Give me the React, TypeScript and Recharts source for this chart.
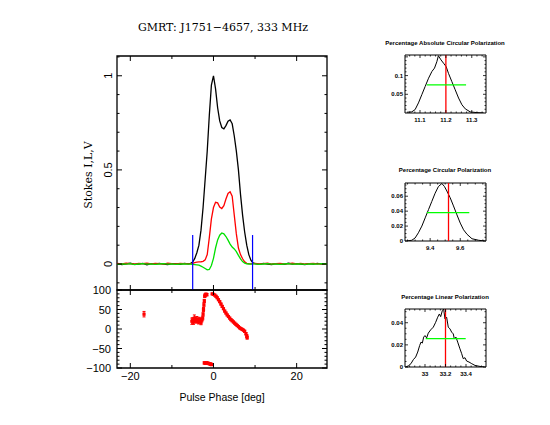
import React from 'react';
import {
  LineChart,
  Line,
  XAxis,
  YAxis,
  ReferenceLine,
  ReferenceArea,
  ScatterChart,
  Scatter,
  ErrorBar,
} from 'recharts';

// ---------------- Data ----------------
// Main profile: pulse phase (deg) and normalised Stokes I, L, V
const phaseDeg = [
  -23.2, -22, -21, -20, -19, -18, -17, -16, -15, -14, -13, -12, -11, -10, -9, -8, -7, -6,
  -5.5, -5, -4.5, -4, -3.5, -3, -2.5, -2, -1.5, -1, -0.5, 0, 0.5, 1, 1.5, 2, 2.5, 3, 3.5, 4,
  4.5, 5, 5.5, 6, 6.5, 7, 7.5, 8, 8.5, 9, 9.5,
  10, 11, 12, 13, 14, 15, 16, 17, 18, 19, 20, 21, 22, 23, 24, 25, 26, 27.3,
];
const stokesI = [
  0.002, -0.003, 0.001, 0.004, -0.002, 0.0, 0.003, -0.004, 0.002, -0.001, 0.003, 0.0, -0.003, 0.002, 0.001, -0.002, 0.003, 0.001,
  0.004, 0.01, 0.03, 0.06, 0.1, 0.18, 0.3, 0.45, 0.6, 0.79, 0.95, 1.0, 0.93, 0.83, 0.76, 0.725, 0.718, 0.735, 0.758, 0.765,
  0.745, 0.68, 0.6, 0.5, 0.37, 0.26, 0.17, 0.1, 0.05, 0.02, 0.006,
  0.002, -0.002, 0.003, 0.0, -0.003, 0.002, 0.001, -0.002, 0.004, -0.001, 0.002, 0.0, -0.003, 0.002, -0.001, 0.003, 0.0, 0.001,
];
const stokesL = [
  0.003, 0.001, 0.004, 0.002, 0.0, 0.003, 0.002, 0.004, 0.001, 0.003, 0.002, 0.0, 0.004, 0.002, 0.001, 0.003, 0.002, 0.001,
  0.002, 0.004, 0.008, 0.01, 0.011, 0.012, 0.014, 0.022, 0.05, 0.14, 0.24, 0.3, 0.328, 0.325, 0.303, 0.295, 0.31, 0.345, 0.375, 0.384,
  0.36, 0.26, 0.16, 0.085, 0.05, 0.028, 0.012, 0.004, 0.002, 0.001, 0.002,
  0.003, 0.001, 0.002, 0.004, 0.0, 0.002, 0.003, 0.001, 0.002, 0.004, 0.001, 0.003, 0.0, 0.002, 0.003, 0.001, 0.002, 0.001,
];
const stokesV = [
  -0.002, 0.001, -0.001, 0.002, -0.003, 0.0, 0.002, -0.001, 0.001, -0.002, 0.0, 0.002, -0.001, 0.001, -0.002, 0.0, 0.001, -0.001,
  0.0, -0.002, -0.003, -0.004, -0.006, -0.011, -0.017, -0.024, -0.031, -0.029, -0.008, 0.03, 0.085, 0.128, 0.153, 0.165, 0.16, 0.146, 0.127, 0.106,
  0.09, 0.08, 0.066, 0.046, 0.027, 0.013, 0.005, 0.001, 0.0, -0.001, 0.001,
  0.001, -0.002, 0.0, 0.002, -0.001, 0.001, -0.002, 0.0, 0.002, -0.001, 0.0, 0.001, -0.002, 0.001, 0.0, -0.001, 0.002, 0.0,
];
const onPulseEdges = [-5.0, 9.4];
const onPulseMarkerTop = 0.154;

// Polarisation position angle (deg) with errors
const paPhase = [
  -16.7,
  -5.2, -5.0, -4.8, -4.6, -4.4, -4.2, -4.0, -3.8, -3.6, -3.4, -3.2, -3.0, -2.8, -2.6, -2.5, -2.4, -2.3, -2.2, -2.1, -2.0, -1.8, -1.6,
  -2.2, -1.9, -1.6, -1.3, -1.0, -0.7, -0.5,
  -0.3, 0.0, 0.3, 0.6, 0.9, 1.2, 1.5, 1.8, 2.1, 2.4, 2.7, 3.0, 3.3, 3.6, 3.9, 4.2, 4.5, 4.8, 5.1, 5.4, 5.7, 6.0, 6.3, 6.6, 6.9, 7.2, 7.5, 7.8, 8.0, 8.1,
];
const paDeg = [
  38,
  20, 22, 18, 28, 24, 20, 26, 22, 18, 25, 21, 16, 23, 28, 38, 50, 62, 72, 84, 87, 89, 88,
  -87, -88, -87, -88, -89, -90, -91,
  90, 89, 87, 84, 80, 75, 70, 64, 58, 52, 46, 41, 36, 32, 28, 24, 21, 18, 15, 12, 9, 6, 3, 1, -1, -3, -6, -12, -18, -22,
];
const paErr = [
  7,
  8, 7, 6, 8, 6, 5, 6, 5, 5, 5, 5, 5, 5, 5, 5, 5, 5, 4, 3, 3, 3, 3,
  3, 3, 3, 3, 3, 3, 3,
  2, 2, 2, 2, 2, 2, 2, 2, 2, 2, 2, 2, 2, 2, 2, 2, 2, 2, 2, 2, 2, 2, 2, 2, 2, 2, 3, 3, 4, 4,
];

// Percentage Absolute Circular Polarization distribution
const absCircX = [11.049, 11.068, 11.081, 11.094, 11.107, 11.12, 11.133, 11.146, 11.156, 11.165, 11.171, 11.181, 11.191, 11.201, 11.21, 11.223, 11.236, 11.249, 11.262, 11.275, 11.294, 11.32, 11.346];
const absCircP = [0.002, 0.003, 0.009, 0.027, 0.049, 0.071, 0.093, 0.111, 0.12, 0.137, 0.153, 0.142, 0.133, 0.124, 0.106, 0.084, 0.062, 0.04, 0.022, 0.011, 0.003, 0.001, 0.0];
const absCircValue = 11.2;
const absCircWidth = [11.126, 11.278];
const absCircHalf = 0.075;

// Percentage Circular Polarization distribution
const circX = [9.245, 9.278, 9.3, 9.322, 9.345, 9.367, 9.389, 9.411, 9.433, 9.455, 9.478, 9.495, 9.511, 9.533, 9.555, 9.578, 9.6, 9.622, 9.645, 9.678, 9.722, 9.762];
const circP = [0.0, 0.001, 0.004, 0.011, 0.02, 0.031, 0.042, 0.053, 0.064, 0.073, 0.077, 0.073, 0.067, 0.058, 0.047, 0.035, 0.024, 0.015, 0.009, 0.003, 0.001, 0.0];
const circValue = 9.522;
const circWidth = [9.378, 9.66];
const circHalf = 0.038;

// Percentage Linear Polarization distribution
const linX = [32.812, 32.837, 32.863, 32.886, 32.909, 32.929, 32.948, 32.961, 32.974, 32.987, 33.0, 33.016, 33.032, 33.055, 33.081, 33.104, 33.124, 33.14, 33.153, 33.169, 33.182, 33.195, 33.211, 33.227, 33.244, 33.26, 33.276, 33.286, 33.302, 33.319, 33.341, 33.358, 33.373, 33.39, 33.406, 33.429, 33.456, 33.488, 33.537, 33.579];
const linP = [0.0, 0.001, 0.003, 0.0066, 0.009, 0.0135, 0.0194, 0.0225, 0.0216, 0.027, 0.0284, 0.0263, 0.0306, 0.0335, 0.036, 0.0404, 0.045, 0.0479, 0.0455, 0.0509, 0.0524, 0.0434, 0.045, 0.036, 0.0344, 0.0315, 0.0299, 0.0254, 0.027, 0.0225, 0.0164, 0.012, 0.0075, 0.0084, 0.0054, 0.0045, 0.003, 0.0014, 0.0005, 0.0];
const linValue = 33.2;
const linWidth = [33.007, 33.397];
const linHalf = 0.0257;

// Tick values
const phaseTicks = [-20, -10, 0, 10, 20];
const phaseLabels = [-20, 0, 20];
const stokesTicks = [-0.1, 0, 0.1, 0.2, 0.3, 0.4, 0.5, 0.6, 0.7, 0.8, 0.9, 1.0, 1.1];
const stokesLabels = [0, 0.5, 1];
const paTicks = [-100, -90, -80, -70, -60, -50, -40, -30, -20, -10, 0, 10, 20, 30, 40, 50, 60, 70, 80, 90, 100];
const paLabels = [-100, -50, 0, 50, 100];

// ---------------- Layout / style ----------------
const W = 550;
const H = 425;
const AX = 20; // space reserved for each axis (width / height)
const SANS = '"Liberation Sans", Arial, Helvetica, sans-serif';
const SERIF = '"DejaVu Serif", "Liberation Serif", serif';
const MAIN = { left: 117, right: 327, top: 56, mid: 290, bottom: 368 };
const SMALL = [
  { left: 405, right: 486, top: 55, bottom: 113, titleY: 43 },
  { left: 405, right: 486, top: 183, bottom: 241, titleY: 170 },
  { left: 405, right: 486, top: 309, bottom: 367, titleY: 297 },
];

const near = (v: number, list: number[]) => list.some((m) => Math.abs(m - v) < 1e-6);
const fmtNum = (v: number) => {
  const s = String(Math.round(v * 10000) / 10000);
  return s.replace('-', '\u2212');
};

type TickOpts = {
  axis: 'x' | 'y';
  nearEdge: number;
  farEdge: number;
  majors: number[];
  labels: number[];
  majorLen: number;
  minorLen: number;
  gap: number;
  fontSize: number;
  fontWeight?: string | number;
  rotate?: boolean;
  sw?: number;
};

function makeTick(o: TickOpts) {
  const sw = o.sw ?? 1;
  return function Tick(props: any) {
    const { x, y, payload } = props;
    const v = payload.value as number;
    const len = near(v, o.majors) ? o.majorLen : o.minorLen;
    const show = near(v, o.labels);
    if (o.axis === 'x') {
      return (
        <g>
          <line x1={x} x2={x} y1={o.nearEdge} y2={o.nearEdge - len} stroke="#000" strokeWidth={sw} />
          <line x1={x} x2={x} y1={o.farEdge} y2={o.farEdge + len} stroke="#000" strokeWidth={sw} />
          {show && (
            <text x={x} y={o.nearEdge + o.gap} textAnchor="middle" dominantBaseline="central"
              fontSize={o.fontSize} fontFamily={SANS} fontWeight={o.fontWeight} fill="#000">
              {fmtNum(v)}
            </text>
          )}
        </g>
      );
    }
    const lx = o.nearEdge - o.gap;
    return (
      <g>
        <line x1={o.nearEdge} x2={o.nearEdge + len} y1={y} y2={y} stroke="#000" strokeWidth={sw} />
        <line x1={o.farEdge} x2={o.farEdge - len} y1={y} y2={y} stroke="#000" strokeWidth={sw} />
        {show && (o.rotate ? (
          <text x={lx} y={y} transform={`rotate(-90 ${lx} ${y})`} textAnchor="middle" dominantBaseline="central"
            fontSize={o.fontSize} fontFamily={SANS} fontWeight={o.fontWeight} fill="#000">
            {fmtNum(v)}
          </text>
        ) : (
          <text x={lx} y={y} textAnchor="end" dominantBaseline="central"
            fontSize={o.fontSize} fontFamily={SANS} fontWeight={o.fontWeight} fill="#000">
            {fmtNum(v)}
          </text>
        ))}
      </g>
    );
  };
}

const layer: React.CSSProperties = { position: 'absolute', left: 0, top: 0 };

const mainData = phaseDeg.map((p, i) => ({ phase: p, I: stokesI[i], L: stokesL[i], V: stokesV[i] }));
const paData = paPhase.map((p, i) => ({ phase: p, pa: paDeg[i], err: [paErr[i], paErr[i]] }));

const phaseDomain: [number, number] = [-23.2, 27.3];
const stokesDomain: [number, number] = [-0.138, 1.105];

const marginFor = (b: { left: number; right: number; top: number; bottom: number }) => ({
  top: b.top,
  left: b.left - AX,
  right: W - b.right,
  bottom: H - b.bottom - AX,
});

function MainProfile() {
  return (
    <div style={layer}>
      <LineChart width={W} height={H} data={mainData}
        margin={marginFor({ left: MAIN.left, right: MAIN.right, top: MAIN.top, bottom: MAIN.mid })}>
        <XAxis dataKey="phase" type="number" domain={phaseDomain} allowDataOverflow ticks={phaseTicks} interval={0}
          height={AX} axisLine={false} tickLine={false}
          tick={makeTick({ axis: 'x', nearEdge: MAIN.mid, farEdge: MAIN.top, majors: phaseLabels, labels: [], majorLen: 5, minorLen: 3, gap: 0, fontSize: 11 })} />
        <YAxis type="number" domain={stokesDomain} allowDataOverflow ticks={stokesTicks} interval={0}
          width={AX} axisLine={false} tickLine={false}
          tick={makeTick({ axis: 'y', nearEdge: MAIN.left, farEdge: MAIN.right, majors: stokesLabels, labels: stokesLabels, majorLen: 5, minorLen: 2.5, gap: 9, fontSize: 11, rotate: true })} />
        <ReferenceArea x1={phaseDomain[0]} x2={phaseDomain[1]} y1={stokesDomain[0]} y2={stokesDomain[1]}
          fill="none" stroke="#000" strokeWidth={1.3} fillOpacity={0} />
        <Line dataKey="I" type="linear" stroke="#000000" strokeWidth={1.3} dot={false} activeDot={false} isAnimationActive={false} />
        <Line dataKey="L" type="linear" stroke="#ff0000" strokeWidth={1.3} dot={false} activeDot={false} isAnimationActive={false} />
        <Line dataKey="V" type="linear" stroke="#00e000" strokeWidth={1.3} dot={false} activeDot={false} isAnimationActive={false} />
        {onPulseEdges.map((e) => (
          <ReferenceLine key={e} segment={[{ x: e, y: onPulseMarkerTop }, { x: e, y: stokesDomain[0] }]}
            stroke="#0000ff" strokeWidth={1.2} />
        ))}
      </LineChart>
    </div>
  );
}

function PADot(props: any) {
  const { cx, cy } = props;
  return <rect x={cx - 1.6} y={cy - 1.6} width={3.2} height={3.2} fill="#ff0000" />;
}

function PAPanel() {
  return (
    <div style={layer}>
      <ScatterChart width={W} height={H}
        margin={marginFor({ left: MAIN.left, right: MAIN.right, top: MAIN.mid, bottom: MAIN.bottom })}>
        <XAxis dataKey="phase" type="number" domain={phaseDomain} allowDataOverflow ticks={phaseTicks} interval={0}
          height={AX} axisLine={false} tickLine={false}
          tick={makeTick({ axis: 'x', nearEdge: MAIN.bottom, farEdge: MAIN.mid, majors: phaseLabels, labels: phaseLabels, majorLen: 5, minorLen: 3, gap: 8, fontSize: 11 })} />
        <YAxis dataKey="pa" type="number" domain={[-100, 100]} allowDataOverflow ticks={paTicks} interval={0}
          width={AX} axisLine={false} tickLine={false}
          tick={makeTick({ axis: 'y', nearEdge: MAIN.left, farEdge: MAIN.right, majors: paLabels, labels: paLabels, majorLen: 5, minorLen: 2.5, gap: 6, fontSize: 11 })} />
        <ReferenceArea x1={phaseDomain[0]} x2={phaseDomain[1]} y1={-100} y2={100}
          fill="none" stroke="#000" strokeWidth={1.3} fillOpacity={0} />
        <Scatter data={paData} fill="#ff0000" shape={PADot} isAnimationActive={false}>
          <ErrorBar dataKey="err" direction="y" width={1.5} stroke="#ff0000" strokeWidth={1} />
        </Scatter>
      </ScatterChart>
    </div>
  );
}

type SmallProps = {
  idx: number;
  xs: number[];
  ps: number[];
  xDomain: [number, number];
  yDomain: [number, number];
  xTicks: number[];
  xMajors: number[];
  xLabels: number[];
  yTicks: number[];
  yMajors: number[];
  yLabels: number[];
  value: number;
  width: number[];
  half: number;
};

function SmallPanel(p: SmallProps) {
  const box = SMALL[p.idx];
  const data = p.xs.map((x, i) => ({ x, p: p.ps[i] }));
  return (
    <div style={layer}>
      <LineChart width={W} height={H} data={data} margin={marginFor(box)}>
        <XAxis dataKey="x" type="number" domain={p.xDomain} allowDataOverflow ticks={p.xTicks} interval={0}
          height={AX} axisLine={false} tickLine={false}
          tick={makeTick({ axis: 'x', nearEdge: box.bottom, farEdge: box.top, majors: p.xMajors, labels: p.xLabels, majorLen: 3, minorLen: 1.5, gap: 7, fontSize: 6, fontWeight: 'bold', sw: 0.8 })} />
        <YAxis type="number" domain={p.yDomain} allowDataOverflow ticks={p.yTicks} interval={0}
          width={AX} axisLine={false} tickLine={false}
          tick={makeTick({ axis: 'y', nearEdge: box.left, farEdge: box.right, majors: p.yMajors, labels: p.yLabels, majorLen: 3, minorLen: 1.5, gap: 2, fontSize: 6, fontWeight: 'bold', sw: 0.8 })} />
        <ReferenceArea x1={p.xDomain[0]} x2={p.xDomain[1]} y1={p.yDomain[0]} y2={p.yDomain[1]}
          fill="none" stroke="#000" strokeWidth={1} fillOpacity={0} />
        <Line dataKey="p" type="linear" stroke="#000" strokeWidth={1} dot={false} activeDot={false} isAnimationActive={false} />
        <ReferenceLine x={p.value} stroke="#ff0000" strokeWidth={1.3} />
        <ReferenceLine segment={[{ x: p.width[0], y: p.half }, { x: p.width[1], y: p.half }]} stroke="#00ff00" strokeWidth={1.3} />
      </LineChart>
    </div>
  );
}

const smallTitles = [
  'Percentage Absolute Circular Polarization',
  'Percentage Circular Polarization',
  'Percentage Linear Polarization',
];

export default function App() {
  return (
    <div style={{ position: 'absolute', left: 0, top: 0, width: W, height: H, background: '#fff', overflow: 'hidden' }}>
      <div style={{ position: 'absolute', left: 0, width: 446, top: 20, textAlign: 'center', fontFamily: SERIF, fontSize: 11, lineHeight: '16px', color: '#000' }}>
        GMRT: J1751{'\u2212'}4657, 333 MHz
      </div>
      <div style={{ position: 'absolute', left: 89 - 60, top: 175 - 8, width: 120, height: 16, textAlign: 'center', fontFamily: SERIF, fontSize: 11, lineHeight: '16px', transform: 'rotate(-90deg)', transformOrigin: '60px 8px', color: '#000' }}>
        Stokes I,L,V
      </div>
      <div style={{ position: 'absolute', left: 0, width: 444, top: 389, textAlign: 'center', fontFamily: SANS, fontSize: 10.5, lineHeight: '16px', color: '#000' }}>
        Pulse Phase [deg]
      </div>
      {smallTitles.map((t, i) => (
        <div key={t} style={{ position: 'absolute', left: 345, width: 200, top: SMALL[i].titleY - 5, textAlign: 'center', fontFamily: SANS, fontSize: 6, fontWeight: 'bold', lineHeight: '10px', color: '#000' }}>
          {t}
        </div>
      ))}
      <MainProfile />
      <PAPanel />
      <SmallPanel idx={0} xs={absCircX} ps={absCircP} xDomain={[11.042, 11.355]} yDomain={[0, 0.155]}
        xTicks={[11.06, 11.08, 11.1, 11.12, 11.14, 11.16, 11.18, 11.2, 11.22, 11.24, 11.26, 11.28, 11.3, 11.32, 11.34]}
        xMajors={[11.1, 11.2, 11.3]} xLabels={[11.1, 11.2, 11.3]}
        yTicks={[0.01, 0.02, 0.03, 0.04, 0.05, 0.06, 0.07, 0.08, 0.09, 0.1, 0.11, 0.12, 0.13, 0.14, 0.15]}
        yMajors={[0.05, 0.1, 0.15]} yLabels={[0.05, 0.1]}
        value={absCircValue} width={absCircWidth} half={absCircHalf} />
      <SmallPanel idx={1} xs={circX} ps={circP} xDomain={[9.233, 9.771]} yDomain={[0, 0.0777]}
        xTicks={[9.25, 9.3, 9.35, 9.4, 9.45, 9.5, 9.55, 9.6, 9.65, 9.7, 9.75]}
        xMajors={[9.4, 9.6]} xLabels={[9.4, 9.6]}
        yTicks={[0, 0.005, 0.01, 0.015, 0.02, 0.025, 0.03, 0.035, 0.04, 0.045, 0.05, 0.055, 0.06, 0.065, 0.07, 0.075]}
        yMajors={[0, 0.02, 0.04, 0.06]} yLabels={[0, 0.02, 0.04, 0.06]}
        value={circValue} width={circWidth} half={circHalf} />
      <SmallPanel idx={2} xs={linX} ps={linP} xDomain={[32.805, 33.595]} yDomain={[0, 0.0524]}
        xTicks={[32.85, 32.9, 32.95, 33, 33.05, 33.1, 33.15, 33.2, 33.25, 33.3, 33.35, 33.4, 33.45, 33.5, 33.55]}
        xMajors={[33, 33.2, 33.4]} xLabels={[33, 33.2, 33.4]}
        yTicks={[0, 0.005, 0.01, 0.015, 0.02, 0.025, 0.03, 0.035, 0.04, 0.045, 0.05]}
        yMajors={[0, 0.02, 0.04]} yLabels={[0, 0.02, 0.04]}
        value={linValue} width={linWidth} half={linHalf} />
    </div>
  );
}
